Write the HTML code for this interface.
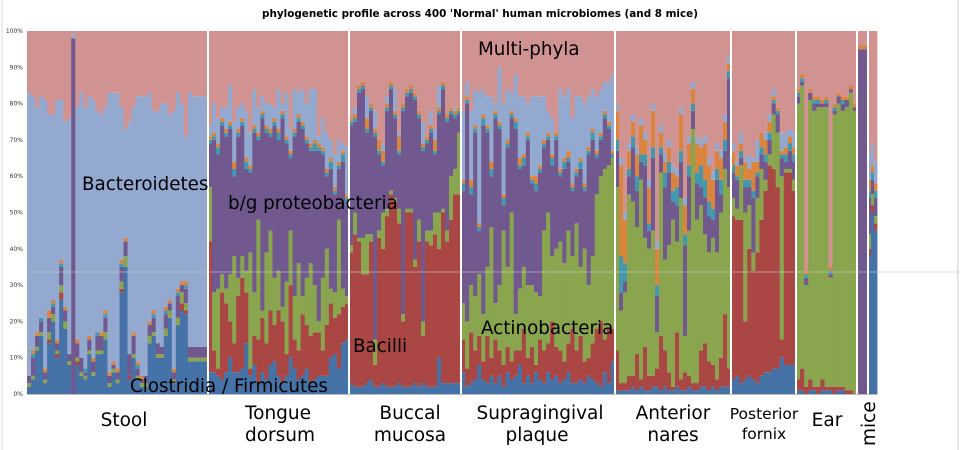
<!DOCTYPE html>
<html><head><meta charset="utf-8"><style>
body{margin:0;background:#fff;width:961px;height:450px;overflow:hidden;font-family:"DejaVu Sans","Liberation Sans",sans-serif;}
svg{display:block}
</style></head><body>
<svg id="chart" width="961" height="450">
<line x1="2" y1="0" x2="2" y2="450" stroke="#ddd"/>
<line x1="958" y1="0" x2="958" y2="450" stroke="#ccc"/>
<text x="480" y="17" font-size="10.4" font-weight="bold" text-anchor="middle">phylogenetic profile across 400 'Normal' human microbiomes (and 8 mice)</text>
<g id="bars"></g>
<g id="axis"></g>
<g id="labels" font-size="18.3" fill="#000">
<text x="82" y="190">Bacteroidetes</text>
<text x="228" y="209">b/g proteobacteria</text>
<text x="478" y="55">Multi-phyla</text>
<text x="481" y="334">Actinobacteria</text>
<text x="353" y="352">Bacilli</text>
<text x="130" y="392">Clostridia / Firmicutes</text>
</g>
<g font-size="18.5" text-anchor="middle">
<text x="124" y="426">Stool</text>
<text x="278" y="419">Tongue</text>
<text x="280" y="441">dorsum</text>
<text x="410" y="419">Buccal</text>
<text x="410" y="441">mucosa</text>
<text x="540" y="419">Supragingival</text>
<text x="537" y="441">plaque</text>
<text x="673" y="419">Anterior</text>
<text x="673" y="441">nares</text>
<text x="764" y="419" font-size="15.5">Posterior</text>
<text x="764" y="439" font-size="15.5">fornix</text>
<text x="827" y="426">Ear</text>
<text x="0" y="0" transform="translate(875,446) rotate(-90)" text-anchor="start">mice</text>
</g>
</svg>
<script>
// Series values (%) per sample group: b=Clostridia, r=Bacilli, g=Actinobacteria, p=proteobacteria, t=teal, o=orange, m=Multi-phyla; Bacteroidetes = remainder
const groupNames = ["Stool","Tongue dorsum","Buccal mucosa","Supragingival plaque","Anterior nares","Posterior fornix","Ear","mice","mice"];
const stoolB=[2,4,12,16,3,14,20,10,26,18,8,0,8,5,4,11,5,11,11,15,2,6,3,28,35,4,10,4,2,2,14,16,10,10,16,21,3,19,23,22,9,9,9,9,9];
const stoolR=[0,0,0,0,0,1,0,1,2,0,0,0,1,0,0,0,0,0,0,0,0,0,0,1,0,1,0,0,0,0,0,0,0,0,0,0,0,0,2,1,0,0,0,0,0];
const stoolG=[1,1,1,1,1,2,2,1,2,2,1,0,1,1,1,1,1,1,1,2,1,1,1,2,3,0,1,1,1,1,2,1,1,1,2,2,1,2,3,2,1,1,1,1,1];
const stoolP=[2,5,3,3,2,4,2,2,5,3,2,98,4,4,1,3,3,4,4,4,2,1,2,4,4,6,5,2,1,2,3,4,3,2,4,2,2,6,2,4,3,3,3,3,3];
const stoolT=[0,1,0,1,0,0,1,0,1,0,0,0,0,0,1,0,0,1,0,1,0,0,0,1,0,0,0,1,0,0,0,1,0,0,1,0,0,1,0,1,0,0,0,0,0];
const stoolO=[0,1,1,0,1,2,1,1,1,1,0,0,1,0,0,1,1,0,1,1,1,1,1,1,1,0,1,1,1,0,1,1,0,0,1,1,1,1,1,1,0,0,0,0,0];
const stoolM=[17,18,21,18,19,23,23,19,19,25,24,1,21,17,21,18,19,22,23,21,17,17,17,21,27,25,21,18,18,18,17,22,22,20,20,23,22,17,20,29,17,18,18,18,18];
const tongueB=[6,6,5,4,6,10,6,6,7,14,5,8,3,6,4,8,9,5,3,5,10,7,4,5,7,3,4,5,5,5,10,11,7,14,15];
const tongueR=[36,6,2,24,19,10,8,21,25,14,2,8,12,15,10,15,10,18,17,6,20,8,8,17,12,13,13,12,7,14,15,10,15,10,10];
const tongueG=[15,16,22,5,4,13,24,5,6,6,32,12,33,2,25,22,13,11,4,20,15,12,24,5,13,20,13,3,20,21,4,7,26,5,2];
const tongueP=[12,42,37,41,42,40,22,39,36,28,22,44,22,53,33,26,42,36,52,38,20,44,39,46,37,31,37,47,34,20,33,27,14,35,25];
const tongueT=[1,1,2,1,1,1,2,1,1,2,1,1,1,1,1,1,1,2,1,1,1,1,1,1,1,1,2,1,1,1,2,1,1,2,2];
const tongueO=[1,1,1,1,1,1,2,1,1,1,1,1,1,1,1,1,1,1,1,1,1,1,1,1,1,1,1,1,1,1,1,1,1,1,1];
const tongueM=[26,20,24,21,21,15,25,21,20,22,28,16,21,18,20,20,21,16,20,17,27,16,17,16,20,16,16,29,24,28,30,34,30,31,32];
const buccalB=[3,2,2,2,3,4,2,2,3,2,2,2,3,2,2,2,3,2,3,2,2,2,10,3,3,3,3,3];
const buccalR=[36,42,40,31,30,38,6,41,37,47,53,51,44,18,48,48,32,40,13,40,39,42,30,47,39,45,52,52];
const buccalG=[2,6,1,10,11,2,7,2,10,2,1,1,4,2,1,1,2,6,4,3,4,6,10,1,3,12,7,17];
const buccalP=[33,25,40,41,28,34,56,21,13,27,28,22,15,56,31,32,44,28,47,24,27,16,27,33,30,17,14,5];
const buccalT=[1,1,1,1,1,1,1,1,1,1,1,1,1,1,1,1,1,1,1,1,1,1,1,1,1,1,1,1];
const buccalO=[1,1,1,1,3,1,1,3,3,1,1,1,4,1,1,1,1,1,1,1,1,3,1,1,1,1,1,1];
const buccalM=[24,21,15,14,18,20,22,30,31,18,14,16,28,20,16,15,17,22,25,29,22,27,15,14,23,21,21,21];
const plaqueB=[6,2,3,4,8,4,3,5,3,5,2,6,4,5,8,3,5,3,6,4,3,6,4,5,3,4,6,3,3,4,3,5,4,3,2,6,3,9];
const plaqueR=[9,5,14,8,8,5,13,5,12,7,6,7,5,7,4,15,5,10,2,11,9,8,16,8,9,5,8,15,9,12,6,5,10,15,18,9,15,9];
const plaqueG=[10,13,13,15,17,13,19,36,10,18,37,22,41,10,17,17,20,17,20,12,33,36,18,27,30,27,31,20,35,19,31,20,24,37,40,47,45,47];
const plaqueP=[31,60,25,45,12,52,37,14,51,43,7,33,26,51,33,28,40,28,28,34,23,20,25,30,18,26,19,18,13,27,16,36,32,10,10,14,10,0];
const plaqueT=[2,1,2,1,1,2,1,2,1,1,2,1,1,2,1,2,1,1,2,1,1,1,2,1,1,2,1,1,1,2,1,1,2,1,1,1,1,1];
const plaqueO=[1,1,2,1,1,1,1,2,1,1,1,1,1,1,2,1,1,1,2,1,1,1,1,1,1,1,2,1,1,1,1,1,1,1,1,1,1,1];
const plaqueM=[22,14,22,16,17,16,18,18,20,10,20,16,17,12,18,18,20,18,18,18,18,22,24,28,16,18,16,24,18,18,20,18,16,18,16,14,14,12];
const naresB=[1,1,1,1,2,1,2,1,1,2,2,1,2,1,1,2,1,1,2,1,1,2,2,1,2,1,2,2,2];
const naresR=[11,2,2,4,3,10,2,12,4,3,5,15,10,5,1,15,3,5,3,2,2,10,12,8,6,3,8,20,5];
const naresG=[45,20,25,50,48,35,55,30,35,40,10,45,25,35,46,25,50,10,40,70,45,40,30,30,35,35,40,40,50];
const naresP=[10,5,3,5,15,10,5,20,5,20,10,5,20,20,5,10,10,25,15,5,10,5,10,10,5,20,5,5,30];
const naresT=[3,10,5,2,3,4,2,3,2,3,3,2,4,3,3,5,3,3,3,2,3,6,5,4,3,3,4,3,2];
const naresO=[8,25,12,5,4,6,8,4,10,10,10,4,3,4,5,3,10,8,6,4,8,5,10,10,8,5,6,5,2];
const naresM=[20,35,50,31,23,32,24,28,41,20,58,26,34,30,37,38,21,46,29,14,29,30,29,35,39,31,33,23,7];
const fornixB=[4,5,3,4,5,4,3,5,6,6,7,7,10,8,8,8];
const fornixR=[45,43,45,16,35,30,36,43,50,57,55,50,5,53,53,48];
const fornixG=[5,3,15,30,12,5,15,14,3,3,15,15,45,1,1,3];
const fornixP=[7,8,2,7,5,15,6,4,5,4,3,5,5,2,5,5];
const fornixT=[2,1,2,2,2,2,1,2,2,2,1,1,1,2,2,2];
const fornixO=[4,3,2,5,3,8,3,4,4,3,1,1,1,2,2,2];
const fornixM=[31,36,28,35,34,35,30,30,28,23,16,21,28,28,27,28];
const earB=[1,1,0,1,1,0,1,1,1,0,1,1,0,0,0];
const earR=[3,6,2,3,1,2,3,1,1,2,1,1,1,1,0];
const earG=[76,78,28,77,76,77,75,77,30,75,78,76,78,82,78];
const earP=[2,1,2,2,2,1,1,1,1,1,2,2,2,1,1];
const earT=[1,1,1,0,1,1,0,1,1,1,0,1,0,0,0];
const earO=[1,1,1,1,1,1,1,1,1,1,1,1,1,1,1];
const earM=[16,13,66,16,18,18,19,18,65,20,17,18,18,15,20];
const miceAB=[0],miceAR=[0],miceAG=[0],miceAP=[95],miceAT=[0],miceAO=[1],miceAM=[4];
const miceBB=[38,50,45],miceBR=[2,2,2],miceBG=[4,3,2],miceBP=[10,4,5],miceBT=[2,2,2],miceBO=[3,2,2],miceBM=[34,31,36];
const yTicks=[0,10,20,30,40,50,60,70,80,90,100];

const groups=[
 [stoolB,stoolR,stoolG,stoolP,stoolT,stoolO,stoolM],
 [tongueB,tongueR,tongueG,tongueP,tongueT,tongueO,tongueM],
 [buccalB,buccalR,buccalG,buccalP,buccalT,buccalO,buccalM],
 [plaqueB,plaqueR,plaqueG,plaqueP,plaqueT,plaqueO,plaqueM],
 [naresB,naresR,naresG,naresP,naresT,naresO,naresM],
 [fornixB,fornixR,fornixG,fornixP,fornixT,fornixO,fornixM],
 [earB,earR,earG,earP,earT,earO,earM],
 [miceAB,miceAR,miceAG,miceAP,miceAT,miceAO,miceAM],
 [miceBB,miceBR,miceBG,miceBP,miceBT,miceBO,miceBM]
];
const bounds=[27,208,349,461,615,731,796,857,868,877];
const colors=["#4572a7","#aa4643","#89a54e","#71588f","#4198af","#db843d","#93a9cf","#d19392"];
const seriesNames=["clostridia","bacilli","actinobacteria","proteobacteria","teal-phylum","orange-phylum","bacteroidetes","multi-phyla"];
const NS="http://www.w3.org/2000/svg";
const Y0=394,Y1=31;
function y(v){return Y0-(Y0-Y1)*v/100;}
const barsG=document.getElementById('bars');
function rect(x,y1,w,h,fill,name){
  const r=document.createElementNS(NS,'rect');
  r.setAttribute('x',x);r.setAttribute('y',y1);r.setAttribute('width',w);r.setAttribute('height',Math.max(0,h));r.setAttribute('fill',fill);
  
  
  barsG.appendChild(r);
}
groups.forEach((gr,gi)=>{
  const x0=bounds[gi],x1=bounds[gi+1],n=gr[0].length,w=(x1-x0)/n;
  for(let i=0;i<n;i++){
    const x=x0+i*w;
    let cum=0;
    for(let s=0;s<6;s++){
      const v=gr[s][i];
      rect(x,y(cum+v),w+0.4,y(cum)-y(cum+v),colors[s],'bar-'+seriesNames[s]);
      cum+=v;
    }
    const lb=Math.max(0,100-gr[6][i]-cum);
    rect(x,y(cum+lb),w+0.4,y(cum)-y(cum+lb),colors[6],'bar-'+seriesNames[6]);
    cum+=lb;
    rect(x,y(100),w+0.4,y(cum)-y(100),colors[7],'bar-'+seriesNames[7]);
  }
});
for(let k=1;k<bounds.length-1;k++){
  const l=document.createElementNS(NS,'rect');
  l.setAttribute('x',bounds[k]-1);l.setAttribute('y',Y1);l.setAttribute('width',2);l.setAttribute('height',Y0-Y1+6);l.setAttribute('fill','#fff');
  
  
  barsG.appendChild(l);
}
const hl=document.createElementNS(NS,'line');
hl.setAttribute('x1',27);hl.setAttribute('x2',958);hl.setAttribute('y1',272);hl.setAttribute('y2',272);hl.setAttribute('stroke','rgba(200,200,200,0.6)');


barsG.appendChild(hl);
const ax=document.getElementById('axis');
yTicks.forEach(t=>{
  const tx=document.createElementNS(NS,'text');
  tx.setAttribute('x',23);tx.setAttribute('y',y(t)+2);tx.setAttribute('font-size','6');tx.setAttribute('text-anchor','end');tx.setAttribute('fill','#333');
  tx.textContent=t+'%';
  
  
  ax.appendChild(tx);
});
const axl=document.createElementNS(NS,'line');
axl.setAttribute('x1',27);axl.setAttribute('x2',877);axl.setAttribute('y1',Y0+0.5);axl.setAttribute('y2',Y0+0.5);axl.setAttribute('stroke','#bbb');


ax.appendChild(axl);
</script>
</body></html>
